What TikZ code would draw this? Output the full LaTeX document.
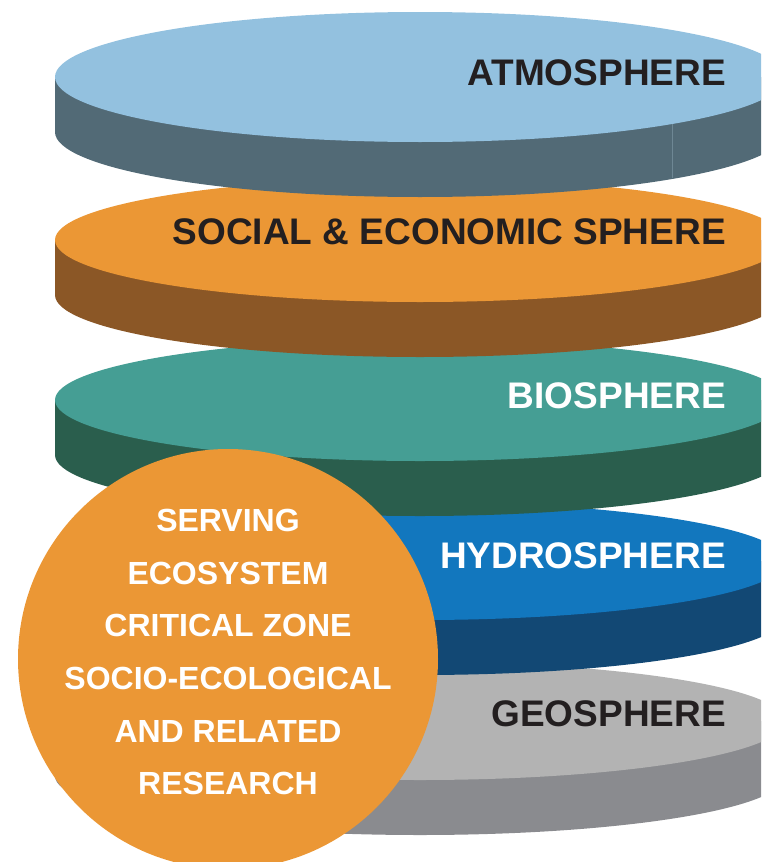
\documentclass[tikz,border=0pt]{standalone}
\usepackage{fontspec}
\setmainfont{Liberation Sans}
\definecolor{atmT}{HTML}{93C1DF}
\definecolor{atmS}{HTML}{526A76}
\definecolor{atmL}{HTML}{6E8794}
\definecolor{socT}{HTML}{EB9735}
\definecolor{socS}{HTML}{8B5726}
\definecolor{bioT}{HTML}{459E94}
\definecolor{bioS}{HTML}{2A5E4D}
\definecolor{hydT}{HTML}{1277BE}
\definecolor{hydS}{HTML}{124874}
\definecolor{geoT}{HTML}{B3B3B3}
\definecolor{geoS}{HTML}{8A8B8F}
\definecolor{circ}{HTML}{EB9735}
\definecolor{darktext}{HTML}{231F20}
% #1 centre y (pixels, downward), #2 half height, #3 top colour, #4 side colour
\newcommand{\mydisk}[4]{%
  \fill[#4] (55,{-(#1)}) -- (55,{-(#1)-55})
    arc[start angle=180,end angle=360,x radius=365,y radius=#2]
    -- (785,{-(#1)}) -- cycle;
  \fill[#3] (420,{-(#1)}) ellipse[x radius=365,y radius=#2];
}
\tikzset{
  disklabel/.style={anchor=base east,inner sep=0pt,font=\fontsize{37}{40}\selectfont\bfseries},
  circlabel/.style={anchor=base,inner sep=0pt,text=white,font=\fontsize{32}{36}\selectfont\bfseries},
}
\begin{document}
\begin{tikzpicture}[x=1pt,y=1pt]
\useasboundingbox (0,0) rectangle (761,-862);
\clip (0,0) rectangle (761,-862);
% disks, bottom first
\mydisk{721}{59}{geoT}{geoS}
\mydisk{561}{59}{hydT}{hydS}
\mydisk{400}{61}{bioT}{bioS}
\mydisk{240}{62}{socT}{socS}
\mydisk{77}{65}{atmT}{atmS}
\draw[atmL,line width=0.8pt] (672,-124) -- (672,-178);
% labels
\node[disklabel,text=darktext] (atm) at (726,-85) {ATMOSPHERE};
\node[disklabel,text=darktext] (soc) at (726,-244) {SOCIAL \& ECONOMIC SPHERE};
\node[disklabel,text=white] (bio) at (726,-408) {BIOSPHERE};
\node[disklabel,text=white] (hyd) at (726,-568) {HYDROSPHERE};
\node[disklabel,text=darktext] (geo) at (726,-726) {GEOSPHERE};
% circle
\fill[circ] (228,-659) circle[radius=210];
\node[circlabel] (c1) at (228,-531) {SERVING};
\node[circlabel] (c2) at (228,-584) {ECOSYSTEM};
\node[circlabel] (c3) at (228,-636) {CRITICAL ZONE};
\node[circlabel] (c4) at (228,-689) {SOCIO-ECOLOGICAL};
\node[circlabel] (c5) at (228,-742) {AND RELATED};
\node[circlabel] (c6) at (228,-794) {RESEARCH};
\end{tikzpicture}
\end{document}
